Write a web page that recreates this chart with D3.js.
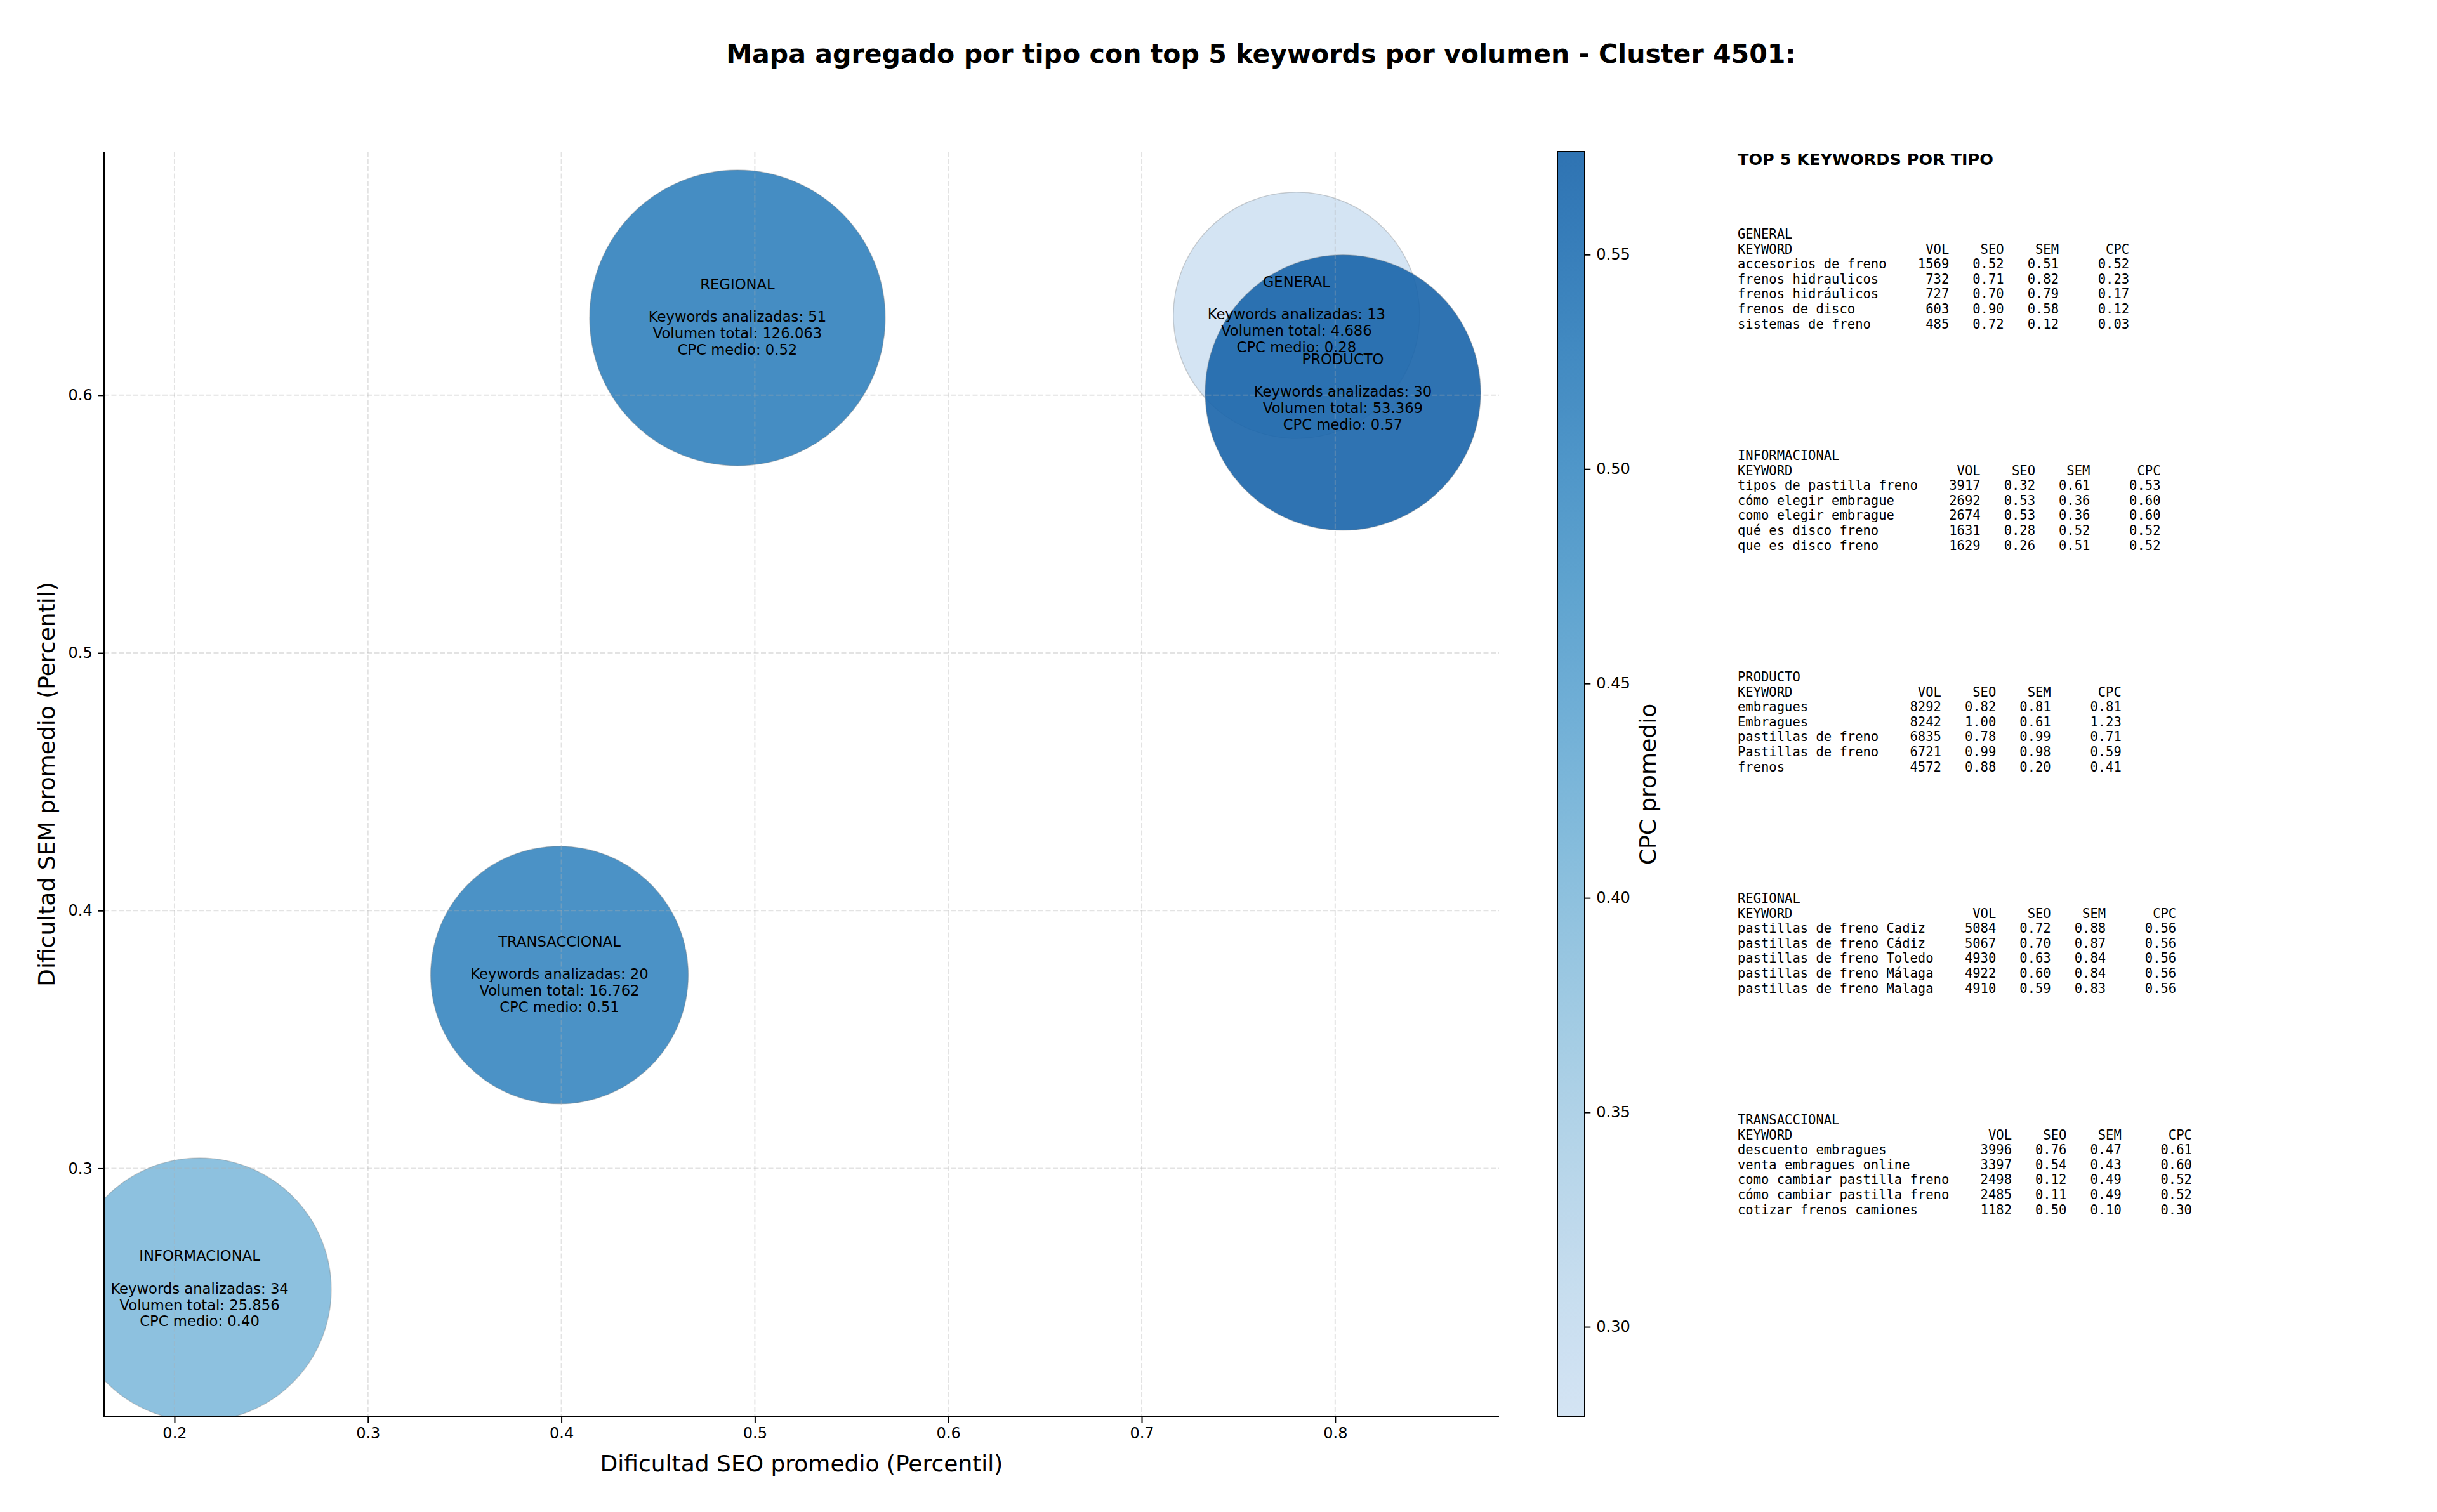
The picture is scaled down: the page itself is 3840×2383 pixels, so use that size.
<!DOCTYPE html>
<html>
<head>
<meta charset="utf-8">
<script src="https://cdn.jsdelivr.net/npm/d3@7"></script>
<style>
  body { margin: 0; background: #fff; }
  svg { display: block; font-family: "DejaVu Sans", sans-serif; }
  .mono { font-family: "DejaVu Sans Mono", monospace; white-space: pre; }
</style>
</head>
<body>
<svg id="chart" width="3840" height="2383"></svg>
<script>
// aggregated values per type (ordered as drawn)
const tipos = ['GENERAL', 'INFORMACIONAL', 'PRODUCTO', 'REGIONAL', 'TRANSACCIONAL'];
const seoMedio = [0.780, 0.213, 0.804, 0.491, 0.399];
const semMedio = [0.631, 0.253, 0.601, 0.630, 0.375];
const cpcMedio = [0.279, 0.40, 0.574, 0.52, 0.51];
const numKeywords = [13, 34, 30, 51, 20];
const volumenTotal = [4686, 25856, 53369, 126063, 16762];

// top 5 keywords per type: keyword, vol, seo, sem, cpc
const topGeneral = [
    ['accesorios de freno', 1569, 0.52, 0.51, 0.52],
    ['frenos hidraulicos', 732, 0.71, 0.82, 0.23],
    ['frenos hidráulicos', 727, 0.70, 0.79, 0.17],
    ['frenos de disco', 603, 0.90, 0.58, 0.12],
    ['sistemas de freno', 485, 0.72, 0.12, 0.03]
];
const topInformacional = [
    ['tipos de pastilla freno', 3917, 0.32, 0.61, 0.53],
    ['cómo elegir embrague', 2692, 0.53, 0.36, 0.60],
    ['como elegir embrague', 2674, 0.53, 0.36, 0.60],
    ['qué es disco freno', 1631, 0.28, 0.52, 0.52],
    ['que es disco freno', 1629, 0.26, 0.51, 0.52]
];
const topProducto = [
    ['embragues', 8292, 0.82, 0.81, 0.81],
    ['Embragues', 8242, 1.00, 0.61, 1.23],
    ['pastillas de freno', 6835, 0.78, 0.99, 0.71],
    ['Pastillas de freno', 6721, 0.99, 0.98, 0.59],
    ['frenos', 4572, 0.88, 0.20, 0.41]
];
const topRegional = [
    ['pastillas de freno Cadiz', 5084, 0.72, 0.88, 0.56],
    ['pastillas de freno Cádiz', 5067, 0.70, 0.87, 0.56],
    ['pastillas de freno Toledo', 4930, 0.63, 0.84, 0.56],
    ['pastillas de freno Málaga', 4922, 0.60, 0.84, 0.56],
    ['pastillas de freno Malaga', 4910, 0.59, 0.83, 0.56]
];
const topTransaccional = [
    ['descuento embragues', 3996, 0.76, 0.47, 0.61],
    ['venta embragues online', 3397, 0.54, 0.43, 0.60],
    ['como cambiar pastilla freno', 2498, 0.12, 0.49, 0.52],
    ['cómo cambiar pastilla freno', 2485, 0.11, 0.49, 0.52],
    ['cotizar frenos camiones', 1182, 0.50, 0.10, 0.30]
];
const topPorTipo = [topGeneral, topInformacional, topProducto, topRegional, topTransaccional];

const xTicks = [0.2, 0.3, 0.4, 0.5, 0.6, 0.7, 0.8];
const yTicks = [0.3, 0.4, 0.5, 0.6];
const cTicks = [0.30, 0.35, 0.40, 0.45, 0.50, 0.55];

const svg = d3.select('#chart');

// plot area in pixels
const plot = { left: 164, right: 2362, top: 239, bottom: 2233 };

const x = d3.scaleLinear().domain([0.1636, 0.8847]).range([plot.left, plot.right]);
const y = d3.scaleLinear().domain([0.2036, 0.6945]).range([plot.bottom, plot.top]);

// bubble area grows with sqrt of total volume
const area = d3.scaleLinear().domain([0, 400]).range([33700, 33700 + 58 * 400]);
const radius = (v) => Math.sqrt(area(Math.sqrt(v)));

const cpcExtent = d3.extent(cpcMedio);
const color = d3.scaleSequential((t) => d3.interpolateBlues(0.2 + 0.6 * t)).domain(cpcExtent);

const data = tipos.map((t, i) => ({
    tipo: t, seo: seoMedio[i], sem: semMedio[i], cpc: cpcMedio[i],
    n: numKeywords[i], vol: volumenTotal[i]
}));

const fmtVol = (v) => d3.format(',')(v).replace(/,/g, '.');

// title
svg.append('text')
    .attr('x', 1987).attr('y', 99)
    .attr('text-anchor', 'middle')
    .attr('font-size', 41.1).attr('font-weight', 'bold')
    .text('Mapa agregado por tipo con top 5 keywords por volumen - Cluster 4501:');

svg.append('clipPath').attr('id', 'clip')
    .append('rect')
    .attr('x', plot.left).attr('y', plot.top)
    .attr('width', plot.right - plot.left).attr('height', plot.bottom - plot.top);

const inner = svg.append('g').attr('clip-path', 'url(#clip)');

// bubbles
inner.selectAll('circle')
    .data(data).enter().append('circle')
    .attr('cx', (d) => x(d.seo))
    .attr('cy', (d) => y(d.sem))
    .attr('r', (d) => radius(d.vol))
    .attr('fill', (d) => color(d.cpc))
    .attr('fill-opacity', 0.9)
    .attr('stroke', '#808080')
    .attr('stroke-opacity', 0.35)
    .attr('stroke-width', 1.5);

// grid sits above the bubbles, as in the original
inner.selectAll('.vgrid')
    .data(xTicks).enter().append('line')
    .attr('class', 'vgrid')
    .attr('x1', (d) => x(d)).attr('x2', (d) => x(d))
    .attr('y1', plot.top).attr('y2', plot.bottom);
inner.selectAll('.hgrid')
    .data(yTicks).enter().append('line')
    .attr('class', 'hgrid')
    .attr('x1', plot.left).attr('x2', plot.right)
    .attr('y1', (d) => y(d)).attr('y2', (d) => y(d));
inner.selectAll('.vgrid, .hgrid')
    .attr('stroke', '#b0b0b0')
    .attr('stroke-opacity', 0.35)
    .attr('stroke-width', 2)
    .attr('stroke-dasharray', '8,3.5');

// bubble labels
const lineH = 25.7;
data.forEach((d) => {
    const lines = [d.tipo, '', 'Keywords analizadas: ' + d.n,
        'Volumen total: ' + fmtVol(d.vol), 'CPC medio: ' + d.cpc.toFixed(2)];
    svg.append('text')
        .attr('text-anchor', 'middle')
        .attr('font-size', 22.7)
        .selectAll('tspan').data(lines).enter().append('tspan')
        .attr('x', x(d.seo))
        .attr('y', (l, i) => y(d.sem) + (i - 2) * lineH + 6.5)
        .text((l) => l);
});

// axes
const xAxis = svg.append('g')
    .attr('transform', `translate(0,${plot.bottom})`)
    .call(d3.axisBottom(x).tickValues(xTicks).tickFormat(d3.format('.1f'))
        .tickSizeOuter(0).tickSize(9.3).tickPadding(8));
const yAxis = svg.append('g')
    .attr('transform', `translate(${plot.left},0)`)
    .call(d3.axisLeft(y).tickValues(yTicks).tickFormat(d3.format('.1f'))
        .tickSizeOuter(0).tickSize(9.3).tickPadding(9));

[xAxis, yAxis].forEach((g) => {
    g.selectAll('text').attr('font-size', 24).attr('fill', '#000')
        .attr('font-family', '"DejaVu Sans", sans-serif');
    g.selectAll('line').attr('stroke', '#000').attr('stroke-width', 2);
    g.select('.domain').attr('stroke', '#000').attr('stroke-width', 2);
});
// full spines: extend across the whole plot
xAxis.select('.domain').attr('d', `M${plot.left},0H${plot.right}`);
yAxis.select('.domain').attr('d', `M0,${plot.bottom}V${plot.top}`);

svg.append('text')
    .attr('x', (plot.left + plot.right) / 2).attr('y', 2319)
    .attr('text-anchor', 'middle').attr('font-size', 36)
    .text('Dificultad SEO promedio (Percentil)');
svg.append('text')
    .attr('transform', `translate(86,${(plot.top + plot.bottom) / 2}) rotate(-90)`)
    .attr('text-anchor', 'middle').attr('font-size', 36)
    .text('Dificultad SEM promedio (Percentil)');

// colorbar
const cb = { x: 2454, w: 43 };
const c = d3.scaleLinear().domain(cpcExtent).range([plot.bottom, plot.top]);
const grad = svg.append('defs').append('linearGradient')
    .attr('id', 'cbgrad').attr('x1', 0).attr('y1', 1).attr('x2', 0).attr('y2', 0);
grad.selectAll('stop')
    .data(d3.range(0, 1.0001, 0.05)).enter().append('stop')
    .attr('offset', (t) => t)
    .attr('stop-color', (t) => color(cpcExtent[0] + t * (cpcExtent[1] - cpcExtent[0])));
svg.append('rect')
    .attr('x', cb.x).attr('y', plot.top)
    .attr('width', cb.w).attr('height', plot.bottom - plot.top)
    .attr('fill', 'url(#cbgrad)').attr('fill-opacity', 0.9);
svg.append('rect')
    .attr('x', cb.x).attr('y', plot.top)
    .attr('width', cb.w).attr('height', plot.bottom - plot.top)
    .attr('fill', 'none').attr('stroke', '#000').attr('stroke-width', 2);
const cAxis = svg.append('g')
    .attr('transform', `translate(${cb.x + cb.w},0)`)
    .call(d3.axisRight(c).tickValues(cTicks).tickFormat(d3.format('.2f'))
        .tickSize(9.3).tickPadding(9).tickSizeOuter(0));
cAxis.select('.domain').remove();
cAxis.selectAll('text').attr('font-size', 24).attr('fill', '#000')
    .attr('font-family', '"DejaVu Sans", sans-serif');
cAxis.selectAll('line').attr('stroke', '#000').attr('stroke-width', 2);
svg.append('text')
    .attr('transform', `translate(2609,${(plot.top + plot.bottom) / 2}) rotate(-90)`)
    .attr('text-anchor', 'middle').attr('font-size', 36)
    .text('CPC promedio');

// right-hand keyword tables
const panelX = 2738;
svg.append('text')
    .attr('x', panelX).attr('y', 260)
    .attr('font-size', 25.5).attr('font-weight', 'bold')
    .text('TOP 5 KEYWORDS POR TIPO');

const blockTop = 376, blockStep = 349, rowH = 23.6;
tipos.forEach((t, i) => {
    const rows = topPorTipo[i];
    const w = d3.max(rows, (r) => r[0].length);
    const line = (a, b, c2, d2, e) =>
        a.padEnd(w) + String(b).padStart(8) + String(c2).padStart(7) +
        String(d2).padStart(7) + String(e).padStart(9);
    const lines = [t, line('KEYWORD', 'VOL', 'SEO', 'SEM', 'CPC')]
        .concat(rows.map((r) => line(r[0], r[1], r[2].toFixed(2), r[3].toFixed(2), r[4].toFixed(2))));
    svg.append('text')
        .attr('class', 'mono')
        .attr('font-size', 20.5)
        .selectAll('tspan').data(lines).enter().append('tspan')
        .attr('x', panelX)
        .attr('y', (l, j) => blockTop + i * blockStep + j * rowH)
        .text((l) => l);
});
</script>
</body>
</html>
